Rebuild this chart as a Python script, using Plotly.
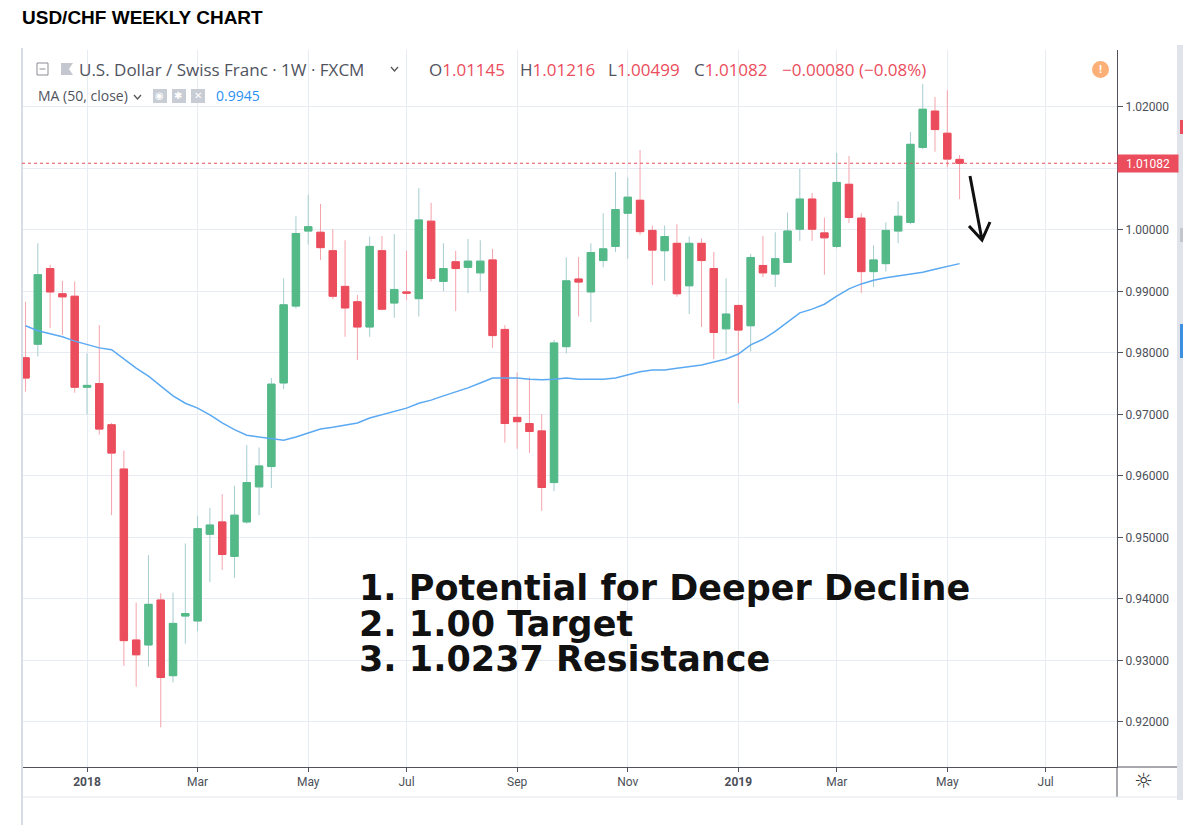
import plotly.graph_objects as go
import pandas as pd

# ---------------- data (weekly bars, Monday dated) ----------------
dates = pd.date_range("2017-11-27", periods=77, freq="7D").strftime("%Y-%m-%d").tolist()

open_ = [0.9792, 0.9814, 0.9937, 0.9896, 0.9892, 0.9744, 0.9750, 0.9683, 0.9611, 0.9333,
         0.9325, 0.9398, 0.9275, 0.9372, 0.9364, 0.9505, 0.9525, 0.9469, 0.9525, 0.9582,
         0.9615, 0.9751, 0.9876, 0.9998, 0.9996, 0.9966, 0.9908, 0.9883, 0.9842, 0.9966,
         0.9881, 0.9899, 0.9888, 1.0014, 0.9916, 0.9948, 0.9939, 0.9930, 0.9951, 0.9838,
         0.9695, 0.9685, 0.9673, 0.9589, 0.9810, 0.9920, 0.9899, 0.9950, 0.9973, 1.0027,
         1.0048, 0.9999, 0.9966, 0.9978, 0.9909, 0.9978, 0.9937, 0.9839, 0.9877, 0.9844,
         0.9942, 0.9928, 0.9947, 1.0001, 1.0050, 0.9995, 0.9973, 1.0074, 1.0019, 0.9932,
         0.9945, 0.9998, 1.0012, 1.0134, 1.0193, 1.0157, 1.01145]
high = [0.9883, 0.9978, 0.9943, 0.9917, 0.9916, 0.9799, 0.9845, 0.9686, 0.9641, 0.9394,
        0.9471, 0.9409, 0.9410, 0.9490, 0.9535, 0.9548, 0.9570, 0.9584, 0.9650, 0.9646,
        0.9759, 0.9921, 1.0022, 1.0057, 1.0042, 1.0001, 0.9983, 0.9894, 0.9989, 0.9990,
        0.9993, 0.9966, 1.0068, 1.0044, 0.9978, 0.9966, 0.9985, 0.9983, 0.9969, 0.9845,
        0.9768, 0.9760, 0.9700, 0.9821, 0.9955, 0.9956, 0.9978, 1.0027, 1.0094, 1.0085,
        1.0130, 1.0007, 1.0007, 1.0009, 0.9989, 0.9986, 0.9964, 0.9921, 0.9878, 0.9961,
        0.9990, 0.9996, 1.0028, 1.0099, 1.0060, 1.0020, 1.0125, 1.0120, 1.0027, 0.9975,
        1.0012, 1.0046, 1.0159, 1.0237, 1.0216, 1.0227, 1.01216]
low = [0.9737, 0.9794, 0.9840, 0.9829, 0.9735, 0.9700, 0.9667, 0.9536, 0.9291, 0.9257,
       0.9290, 0.9191, 0.9264, 0.9327, 0.9347, 0.9427, 0.9447, 0.9434, 0.9522, 0.9536,
       0.9580, 0.9741, 0.9872, 0.9976, 0.9951, 0.9887, 0.9826, 0.9788, 0.9826, 0.9869,
       0.9857, 0.9886, 0.9859, 0.9916, 0.9900, 0.9868, 0.9897, 0.9900, 0.9808, 0.9654,
       0.9644, 0.9637, 0.9543, 0.9575, 0.9799, 0.9859, 0.9850, 0.9939, 0.9964, 0.9953,
       0.9992, 0.9910, 0.9917, 0.9891, 0.9863, 0.9842, 0.9790, 0.9798, 0.9718, 0.9802,
       0.9923, 0.9907, 0.9946, 0.9982, 0.9982, 0.9927, 0.9970, 1.0011, 0.9897, 0.9907,
       0.9932, 0.9978, 1.0009, 1.0131, 1.0127, 1.0102, 1.00499]
close = [0.9759, 0.9927, 0.9899, 0.9891, 0.9744, 0.9747, 0.9676, 0.9637, 0.9332, 0.9309,
         0.9391, 0.9272, 0.9360, 0.9376, 0.9514, 0.9520, 0.9472, 0.9536, 0.9589, 0.9616,
         0.9749, 0.9878, 0.9994, 1.0005, 0.9971, 0.9892, 0.9873, 0.9842, 0.9973, 0.9871,
         0.9903, 0.9897, 1.0016, 0.9921, 0.9937, 0.9937, 0.9949, 0.9949, 0.9828, 0.9685,
         0.9688, 0.9672, 0.9581, 0.9816, 0.9917, 0.9915, 0.9963, 0.9969, 1.0033, 1.0053,
         0.9997, 0.9967, 0.9989, 0.9896, 0.9978, 0.9950, 0.9833, 0.9863, 0.9837, 0.9955,
         0.9930, 0.9953, 0.9998, 1.0050, 1.0001, 0.9987, 1.0077, 1.0020, 0.9932, 0.9951,
         0.9999, 1.0022, 1.0139, 1.0196, 1.0163, 1.0115, 1.01082]
ma50 = [0.9844, 0.9836, 0.9831, 0.9826, 0.9819, 0.9813, 0.9808, 0.9805, 0.9790, 0.9775,
        0.9762, 0.9746, 0.9730, 0.9718, 0.9710, 0.9699, 0.9686, 0.9675, 0.9666, 0.9663,
        0.9660, 0.9658, 0.9663, 0.9670, 0.9676, 0.9679, 0.9683, 0.9686, 0.9694, 0.9699,
        0.9704, 0.9710, 0.9718, 0.9723, 0.9730, 0.9736, 0.9743, 0.9751, 0.9759, 0.9759,
        0.9759, 0.9757, 0.9756, 0.9757, 0.9759, 0.9757, 0.9757, 0.9757, 0.9759, 0.9764,
        0.9769, 0.9772, 0.9772, 0.9775, 0.9777, 0.9780, 0.9785, 0.9790, 0.9798, 0.9813,
        0.9822, 0.9835, 0.9850, 0.9865, 0.9871, 0.9879, 0.9892, 0.9904, 0.9912, 0.9918,
        0.9922, 0.9925, 0.9928, 0.9931, 0.9936, 0.9941, 0.9945]

tick_dates = ["2018-01-01", "2018-03-05", "2018-05-07", "2018-07-02", "2018-09-03",
              "2018-11-05", "2019-01-07", "2019-03-04", "2019-05-06", "2019-07-01"]
tick_text = ["<b>2018</b>", "Mar", "May", "Jul", "Sep", "Nov", "<b>2019</b>", "Mar", "May", "Jul"]
price_ticks = [0.92, 0.93, 0.94, 0.95, 0.96, 0.97, 0.98, 0.99, 1.00, 1.01, 1.02]
# the 1.01000 label is hidden behind the last-price tag
price_labels = ["" if abs(v - 1.01) < 1e-9 else f"{v:.5f}" for v in price_ticks]

last_open, last_high, last_low, last_close = open_[-1], high[-1], low[-1], close[-1]
change = -0.00080
change_pct = -0.08
ma_last = ma50[-1]

notes = ["1. Potential for Deeper Decline", "2. 1.00 Target", "3. 1.0237 Resistance"]

# ---------------- styling / geometry ----------------
W, H = 1203, 825
PL, PR, PT, PB = 22, 1117, 50, 767
UP, DN = "#53b987", "#eb4d5c"
UP_WICK, DN_WICK = "#a6cdcf", "#f5a3ab"
GRID = "#e6ecf2"
AXIS = "#50535e"
TXT = "#4c4f57"
HDR = "Open Sans"

def px(x):
    return (x - PL) / (PR - PL)

def py(y):
    return (PB - y) / (PB - PT)

base = pd.Timestamp("2018-01-01")
px_per_day = 12.29 / 7
x0 = base - pd.Timedelta(days=(87 - PL) / px_per_day)
x1 = base + pd.Timedelta(days=(PR - 87) / px_per_day)
val_per_px = 0.01 / 61.5
y_top = 1.0 + (229.8 - PT) * val_per_px
y_bot = 1.0 - (PB - 229.8) * val_per_px

body_hi = [max(o, c) for o, c in zip(open_, close)]
body_lo = [min(o, c) for o, c in zip(open_, close)]

fig = go.Figure()
fig.add_trace(go.Scatter(x=dates, y=ma50, mode="lines",
                         line=dict(color="#5aa9f2", width=1.5), hoverinfo="skip"))
fig.add_trace(go.Candlestick(
    x=dates, open=open_, high=high, low=low, close=close, whiskerwidth=0,
    increasing=dict(line=dict(color=UP_WICK, width=1), fillcolor=UP_WICK),
    decreasing=dict(line=dict(color=DN_WICK, width=1), fillcolor=DN_WICK),
    hoverinfo="skip"))
fig.add_trace(go.Candlestick(
    x=dates, open=open_, high=body_hi, low=body_lo, close=close, whiskerwidth=0,
    increasing=dict(line=dict(color=UP, width=1), fillcolor=UP),
    decreasing=dict(line=dict(color=DN, width=1), fillcolor=DN),
    hoverinfo="skip"))

shapes = []
def pline(xa, ya, xb, yb, color, width=1, dash="solid"):
    shapes.append(dict(type="line", xref="paper", yref="paper", x0=px(xa), y0=py(ya),
                       x1=px(xb), y1=py(yb), line=dict(color=color, width=width, dash=dash)))

def prect(xa, ya, xb, yb, fill, line_color=None, lw=0):
    shapes.append(dict(type="rect", xref="paper", yref="paper", x0=px(xa), y0=py(ya),
                       x1=px(xb), y1=py(yb), fillcolor=fill,
                       line=dict(color=line_color or fill, width=lw)))

# panel frame pieces
pline(PL, 48, PL, 825, "#d7dde5", 2)
pline(PR, PB, 1177, PB, AXIS, 1)
pline(PR, PB, PR, 797, AXIS, 1)
pline(PL, 797, 1177, 797, "#e1e4ea", 1)
prect(1177, 45, 1183, 800, "#e0e3e9")
prect(1180, 120, 1183, 134, DN)
prect(1180, 228, 1183, 242, "#c3c6cc")
prect(1180, 324, 1183, 358, "#3d8fe0")

# last price dotted line
shapes.append(dict(type="line", xref="paper", yref="y", x0=0, x1=1, y0=last_close, y1=last_close,
                   line=dict(color=DN, width=1, dash="dot")))

# header icons
prect(37, 63, 48, 75, "rgba(0,0,0,0)", "#8a8d96", 1)
pline(39.5, 69, 45.5, 69, "#8a8d96", 1)
shapes.append(dict(type="path", xref="paper", yref="paper",
                   path=f"M {px(61)},{py(63)} L {px(73)},{py(63)} L {px(69)},{py(69)} L {px(73)},{py(75)} L {px(61)},{py(75)} Z",
                   fillcolor="#c4c7cf", line=dict(width=0)))
shapes.append(dict(type="path", xref="paper", yref="paper",
                   path=f"M {px(391)},{py(67)} L {px(394.5)},{py(71)} L {px(398)},{py(67)}",
                   line=dict(color="#555", width=1.3)))
shapes.append(dict(type="path", xref="paper", yref="paper",
                   path=f"M {px(134)},{py(95)} L {px(137.5)},{py(99)} L {px(141)},{py(95)}",
                   line=dict(color="#555", width=1.3)))
for bx in (153, 172, 191):
    prect(bx, 89, bx + 14, 103, "#c8ccd4")
# orange alert dot
shapes.append(dict(type="circle", xref="paper", yref="paper",
                   x0=px(1092), x1=px(1109), y0=py(61), y1=py(78),
                   fillcolor="#fbb077", line=dict(width=0)))
# hand-drawn arrow
shapes.append(dict(type="path", xref="paper", yref="paper",
                   path=(f"M {px(970)},{py(176)} L {px(982)},{py(240)} "
                         f"M {px(969)},{py(226)} L {px(982)},{py(240)} L {px(990)},{py(222)}"),
                   line=dict(color="#111", width=3)))

ann = []
def ptext(x, y, text, size, color=TXT, family="Roboto", anchor="left", bg=None, width=None):
    d = dict(xref="paper", yref="paper", x=px(x), y=py(y), text=text, showarrow=False,
             xanchor=anchor, yanchor="middle", font=dict(family=family, size=size, color=color))
    if bg:
        d.update(bgcolor=bg)
    if width:
        d.update(width=width)
    ann.append(d)

ptext(20, 17, "<b>USD/CHF WEEKLY CHART</b>", 19, "#000", "Liberation Sans")
ptext(77, 69, "U.S. Dollar / Swiss Franc · 1W · FXCM", 17, "#50535e", HDR)
red = DN
ptext(427, 69, f"O<span style='color:{red}'>{last_open:.5f}</span>", 17, "#50535e", HDR)
ptext(518, 69, f"H<span style='color:{red}'>{last_high:.5f}</span>", 17, "#50535e", HDR)
ptext(606, 69, f"L<span style='color:{red}'>{last_low:.5f}</span>", 17, "#50535e", HDR)
ptext(692, 69, f"C<span style='color:{red}'>{last_close:.5f}</span>", 17, "#50535e", HDR)
ptext(780, 69, f"−{abs(change):.5f} (−{abs(change_pct):.2f}%)", 17, red, HDR)
ptext(1100.5, 69.5, "<b>!</b>", 11, "#ffffff", anchor="center")
ptext(36, 96, "MA (50, close)", 14, "#50535e", HDR)
ptext(159.5, 96, "◉", 10, "#ffffff", "DejaVu Sans", anchor="center")
ptext(178.5, 96, "✱", 10, "#ffffff", "DejaVu Sans", anchor="center")
ptext(198, 96, "✕", 10, "#ffffff", "DejaVu Sans", anchor="center")
ptext(214, 96, f"{ma_last:.4f}", 14, "#2a8ff0", HDR)
ptext(1143, 781, "☼", 21, "#333", "DejaVu Sans", anchor="center")
for ty, t in zip((588, 623.5, 659), notes):
    ptext(357, ty, f"<b>{t}</b>", 35, "#111", "DejaVu Sans")

# price label on axis
ann.append(dict(xref="paper", yref="y", x=1.0, y=last_close, text=f"{last_close:.5f}",
                showarrow=False, xanchor="left", yanchor="middle", bgcolor=DN,
                width=58, height=15, borderpad=1,
                font=dict(family="Roboto", size=12, color="#ffffff")))

fig.update_layout(
    width=W, height=H, autosize=False,
    margin=dict(l=PL, r=W - PR, t=PT, b=H - PB),
    paper_bgcolor="white", plot_bgcolor="white",
    showlegend=False, hovermode=False,
    boxgap=0.4, boxgroupgap=0,
    shapes=shapes, annotations=ann,
    xaxis=dict(type="date", range=[x0, x1], rangeslider=dict(visible=False),
               tickmode="array", tickvals=tick_dates, ticktext=tick_text,
               showgrid=True, gridcolor=GRID, gridwidth=1, zeroline=False,
               showline=True, linecolor=AXIS, linewidth=1,
               ticks="outside", ticklen=4, tickcolor=AXIS,
               tickfont=dict(family="Roboto", size=12, color=TXT)),
    yaxis=dict(range=[y_bot, y_top], side="right",
               tickmode="array", tickvals=price_ticks, ticktext=price_labels,
               showgrid=True, gridcolor=GRID, gridwidth=1, zeroline=False,
               showline=True, linecolor=AXIS, linewidth=1,
               ticks="outside", ticklen=5, tickcolor=AXIS,
               tickfont=dict(family="Roboto", size=12, color=TXT)),
)

fig.write_html("out.html")
